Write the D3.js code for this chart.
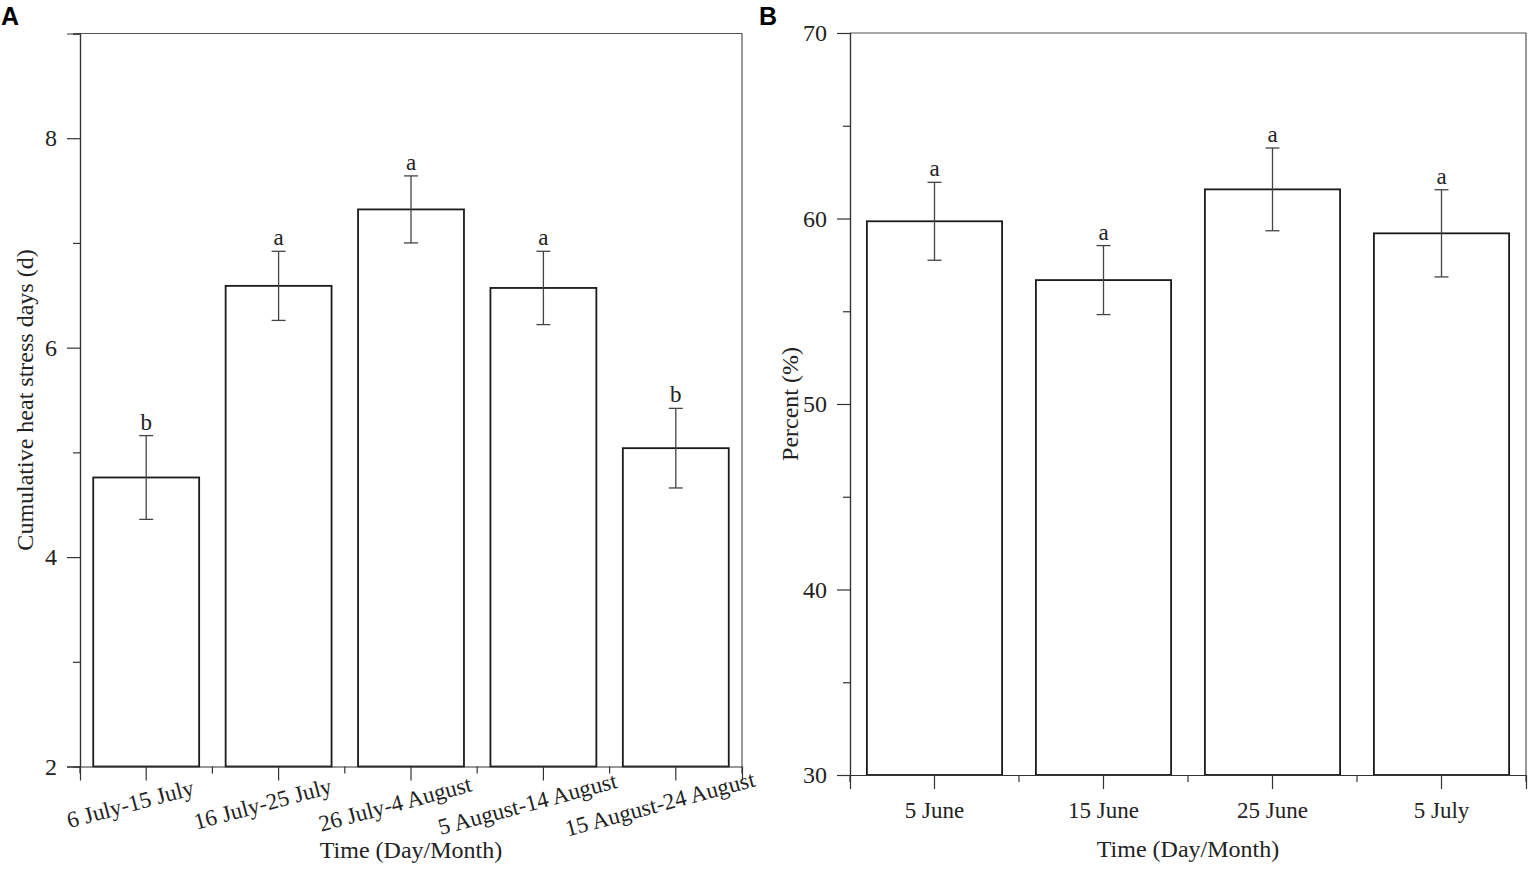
<!DOCTYPE html>
<html>
<head>
<meta charset="utf-8">
<script src="https://cdn.jsdelivr.net/npm/d3@7"></script>
<style>
  html, body { margin: 0; padding: 0; background: #fff; }
  svg { display: block; }
  text { font-family: "Liberation Serif", "Times New Roman", serif; fill: #222; }
  .panel-tag { font-family: "Liberation Sans", Arial, sans-serif; font-weight: bold; fill: #000; }
</style>
</head>
<body>
<script>
const width = 1535;
const height = 874;

// Panel A: cumulative heat stress days
const periodsA = ["6 July-15 July", "16 July-25 July", "26 July-4 August", "5 August-14 August", "15 August-24 August"];
const daysA = [4.76, 6.59, 7.32, 6.57, 5.04];
const errA = [0.40, 0.33, 0.32, 0.35, 0.38];
const lettersA = ["b", "a", "a", "a", "b"];
const majorTicksA = [2, 4, 6, 8];
const minorTicksA = [3, 5, 7, 9];

// Panel B: percent
const datesB = ["5 June", "15 June", "25 June", "5 July"];
const percentB = [59.85, 56.68, 61.57, 59.2];
const errB = [2.1, 1.86, 2.23, 2.35];
const lettersB = ["a", "a", "a", "a"];
const majorTicksB = [30, 40, 50, 60, 70];
const minorTicksB = [35, 45, 55, 65];

const svg = d3.select("body").append("svg")
    .attr("width", width)
    .attr("height", height);

svg.append("rect").attr("width", width).attr("height", height).attr("fill", "#fff");

function drawPanel(opt) {
    const g = svg.append("g");
    const x = d3.scaleBand()
        .domain(opt.cats)
        .range([opt.x0, opt.x1])
        .paddingInner(0.2)
        .paddingOuter(0.1);
    const y = d3.scaleLinear().domain(opt.domain).range([opt.y0, opt.y1]);

    // frame (top and right)
    g.append("path")
        .attr("d", `M${opt.x0},${opt.y1}H${opt.x1}V${opt.y0}`)
        .attr("fill", "none").attr("stroke", "#555").attr("stroke-width", 1.2);

    // bars
    g.selectAll("rect.bar").data(opt.values).enter().append("rect")
        .attr("class", "bar")
        .attr("x", (d, i) => x(opt.cats[i]))
        .attr("width", x.bandwidth())
        .attr("y", d => y(d))
        .attr("height", d => y(opt.domain[0]) - y(d))
        .attr("fill", "none")
        .attr("stroke", "#1a1a1a")
        .attr("stroke-width", 1.8);

    // error bars
    const cap = 7;
    const eb = g.selectAll("g.err").data(opt.values).enter().append("g")
        .attr("class", "err")
        .attr("stroke", "#444").attr("stroke-width", 1.3);
    eb.append("line")
        .attr("x1", (d, i) => x(opt.cats[i]) + x.bandwidth() / 2)
        .attr("x2", (d, i) => x(opt.cats[i]) + x.bandwidth() / 2)
        .attr("y1", (d, i) => y(d + opt.err[i]))
        .attr("y2", (d, i) => y(d - opt.err[i]));
    eb.append("line")
        .attr("x1", (d, i) => x(opt.cats[i]) + x.bandwidth() / 2 - cap)
        .attr("x2", (d, i) => x(opt.cats[i]) + x.bandwidth() / 2 + cap)
        .attr("y1", (d, i) => y(d + opt.err[i]))
        .attr("y2", (d, i) => y(d + opt.err[i]));
    eb.append("line")
        .attr("x1", (d, i) => x(opt.cats[i]) + x.bandwidth() / 2 - cap)
        .attr("x2", (d, i) => x(opt.cats[i]) + x.bandwidth() / 2 + cap)
        .attr("y1", (d, i) => y(d - opt.err[i]))
        .attr("y2", (d, i) => y(d - opt.err[i]));

    // significance letters
    g.selectAll("text.sig").data(opt.values).enter().append("text")
        .attr("class", "sig")
        .attr("x", (d, i) => x(opt.cats[i]) + x.bandwidth() / 2)
        .attr("y", (d, i) => y(d + opt.err[i]) - 6)
        .attr("text-anchor", "middle")
        .attr("font-size", 23)
        .text((d, i) => opt.letters[i]);

    // y axis: labelled majors and short minors
    const yAxis = g.append("g")
        .attr("transform", `translate(${opt.x0},0)`)
        .call(d3.axisLeft(y).tickValues(opt.major).tickSize(13).tickPadding(10).tickFormat(d3.format("d")));
    g.append("g")
        .attr("transform", `translate(${opt.x0},0)`)
        .call(d3.axisLeft(y).tickValues(opt.minor).tickSize(7).tickFormat(""));

    // x axis: majors at band centres, minors at band edges
    const step = x.step();
    const edges = d3.range(opt.cats.length + 1).map(i => opt.x0 + i * step);
    g.append("g")
        .attr("transform", `translate(0,${opt.y0})`)
        .call(d3.axisBottom(x).tickSize(14).tickFormat(""));
    g.append("g")
        .attr("transform", `translate(0,${opt.y0})`)
        .selectAll("line").data(edges).enter().append("line")
        .attr("x1", d => d).attr("x2", d => d)
        .attr("y1", 0).attr("y2", 7);

    g.selectAll(".domain, .tick line, line")
        .filter(function () { return !this.closest(".err"); })
        .attr("stroke", "#333").attr("stroke-width", 1.2);
    g.selectAll(".domain").attr("fill", "none");
    yAxis.selectAll("text")
        .attr("font-size", 24)
        .attr("fill", "#222")
        .style("font-family", "Liberation Serif, serif");

    // x tick labels
    g.selectAll("text.xlab").data(opt.cats).enter().append("text")
        .attr("class", "xlab")
        .attr("font-size", opt.xFont)
        .attr("text-anchor", "middle")
        .attr("dy", opt.rotate ? "0.35em" : "0")
        .attr("transform", d => {
            const cx = x(d) + x.bandwidth() / 2 + opt.labDx;
            return `translate(${cx},${opt.y0 + opt.labDy}) rotate(${opt.rotate})`;
        })
        .text(d => d);

    // axis titles
    g.append("text")
        .attr("x", (opt.x0 + opt.x1) / 2)
        .attr("y", opt.titleY)
        .attr("text-anchor", "middle")
        .attr("font-size", 24)
        .text("Time (Day/Month)");
    g.append("text")
        .attr("transform", `translate(${opt.yTitleX},${(opt.y0 + opt.y1) / 2}) rotate(-90)`)
        .attr("text-anchor", "middle")
        .attr("font-size", 24)
        .text(opt.yTitle);

    svg.append("text")
        .attr("class", "panel-tag")
        .attr("x", opt.tagX).attr("y", 25)
        .attr("font-size", 25)
        .text(opt.tag);
}

drawPanel({
    cats: periodsA, values: daysA, err: errA, letters: lettersA,
    major: majorTicksA, minor: minorTicksA,
    domain: [2, 9], x0: 80, x1: 742, y0: 766.5, y1: 33.5,
    xFont: 23, rotate: -15, labDx: -16, labDy: 37,
    titleY: 858, yTitleX: 33, yTitle: "Cumulative heat stress days (d)",
    tag: "A", tagX: 1
});

drawPanel({
    cats: datesB, values: percentB, err: errB, letters: lettersB,
    major: majorTicksB, minor: minorTicksB,
    domain: [30, 70], x0: 850, x1: 1526, y0: 775, y1: 33,
    xFont: 23, rotate: 0, labDx: 0, labDy: 43,
    titleY: 857, yTitleX: 798, yTitle: "Percent (%)",
    tag: "B", tagX: 759
});
</script>
</body>
</html>
